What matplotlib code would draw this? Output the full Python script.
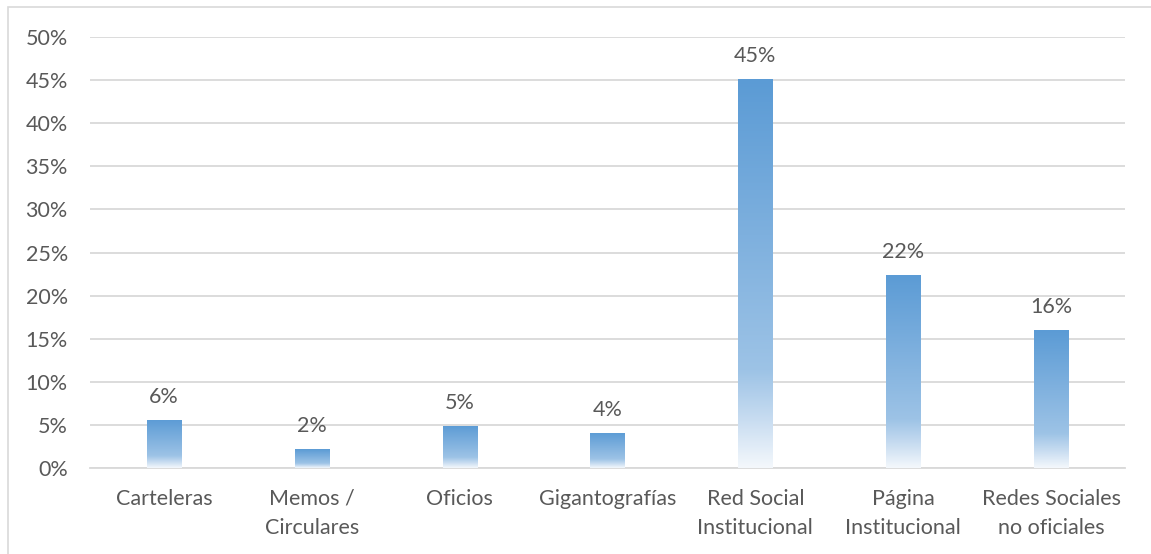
import numpy as np
import matplotlib.pyplot as plt
from matplotlib.colors import LinearSegmentedColormap
from matplotlib.patches import Rectangle

categorias = ['Carteleras', 'Memos /\nCirculares', 'Oficios', 'Gigantografías',
              'Red Social\nInstitucional', 'Página\nInstitucional', 'Redes Sociales\nno oficiales']
valores = [5.6, 2.2, 4.9, 4.1, 45.1, 22.4, 16.0]
etiquetas = ['6%', '2%', '5%', '4%', '45%', '22%', '16%']

plt.rcParams['font.family'] = ['Lato', 'DejaVu Sans']
gris = '#595959'

fig = plt.figure(figsize=(11.51, 5.54), dpi=100)
ax = fig.add_axes([0.0782, 0.1552, 0.8992, 0.778])

# gradient: blue at top fading to white at the bottom
cmap = LinearSegmentedColormap.from_list('grad', [
    (0.0, '#f4f8fc'), (0.12, '#c9ddf1'), (0.25, '#9dc3e6'),
    (0.6, '#7eb0de'), (1.0, '#5b9bd5')])
grad = np.linspace(0, 1, 256).reshape(-1, 1)

x = np.arange(len(categorias))
bars = ax.bar(x, valores, width=0.23, color='none', edgecolor='none', zorder=3)
for b in bars:
    x0, w, h = b.get_x(), b.get_width(), b.get_height()
    im = ax.imshow(grad, cmap=cmap, origin='lower', aspect='auto',
                   extent=(x0, x0 + w, 0, h), zorder=3, interpolation='bicubic')
    im.set_clip_path(b)

for xi, v, t in zip(x, valores, etiquetas):
    ax.text(xi, v + 1.5, t, ha='center', va='bottom', fontsize=15.5, color=gris)

ax.set_xlim(-0.5, len(categorias) - 0.5)
ax.set_ylim(0, 50)
ax.set_yticks(np.arange(0, 51, 5))
ax.set_yticklabels([f'{t}%' for t in range(0, 51, 5)])
ax.set_xticks(x)
ax.set_xticklabels(categorias, linespacing=1.55)
ax.tick_params(axis='both', length=0, labelsize=15.5, colors=gris)
ax.tick_params(axis='x', pad=15)
ax.tick_params(axis='y', pad=16)
ax.grid(axis='y', color='#d9d9d9', linewidth=1.3, zorder=0)
ax.set_axisbelow(True)
for s in ['top', 'right', 'left']:
    ax.spines[s].set_visible(False)
ax.spines['bottom'].set_color('#d9d9d9')
ax.spines['bottom'].set_linewidth(1.3)

fig.patches.append(Rectangle((0.007, -0.01), 1.0, 0.997, transform=fig.transFigure,
                             fill=False, edgecolor='#d9d9d9', linewidth=1.2))

plt.savefig('out.png', dpi=100)
